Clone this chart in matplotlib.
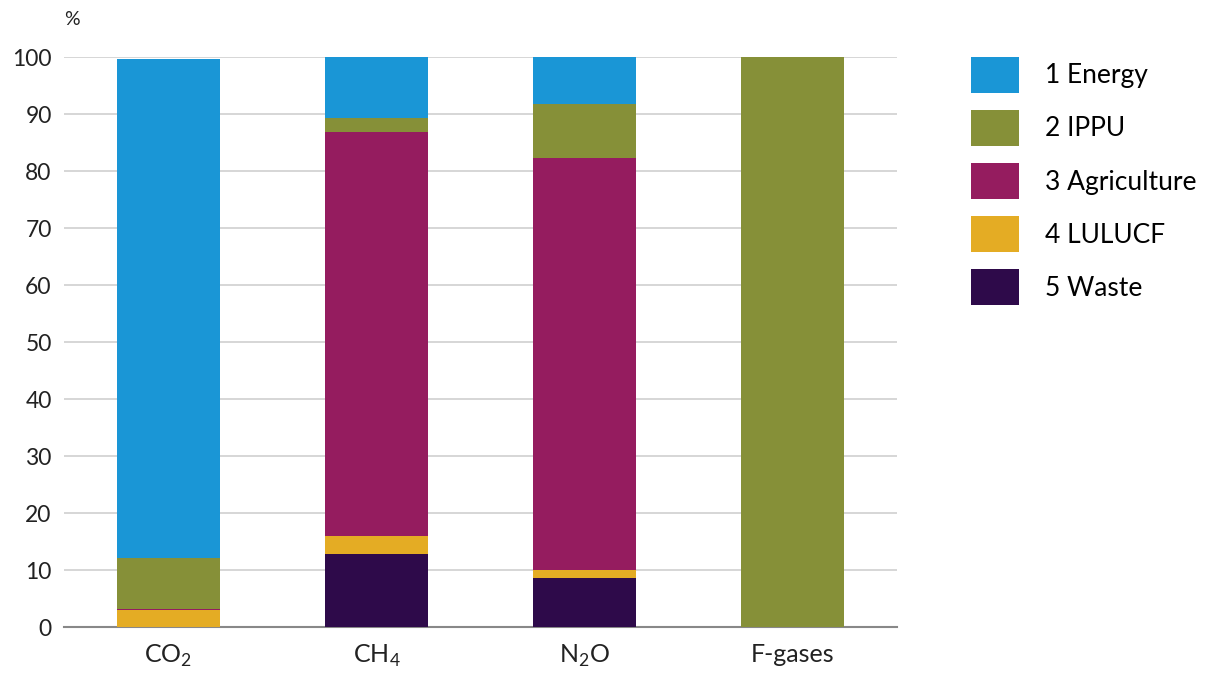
import matplotlib

matplotlib.use("Agg")
import matplotlib.pyplot as plt
from matplotlib.patches import Patch

gases = ["CO$_2$", "CH$_4$", "N$_2$O", "F-gases"]
sectors = ["1 Energy", "2 IPPU", "3 Agriculture", "4 LULUCF", "5 Waste"]
energy = [87.5, 10.7, 8.1, 0.0]
ippu = [9.0, 2.3, 9.6, 100.0]
agriculture = [0.1, 71.0, 72.3, 0.0]
lulucf = [3.1, 3.2, 1.4, 0.0]
waste = [0.0, 12.8, 8.6, 0.0]

colors = ["#1a96d6", "#869038", "#951c5f", "#e4ac24", "#2e0a4a"]

plt.rcParams["font.family"] = ["Lato", "DejaVu Sans"]
plt.rcParams["mathtext.fontset"] = "custom"
plt.rcParams["mathtext.rm"] = "Lato"

fig = plt.figure(figsize=(12.12, 6.84), dpi=100)
ax = fig.add_axes([0.053, 0.083, 0.687, 0.833])

x = range(len(gases))
# stack order bottom-up: waste, LULUCF, agriculture, IPPU, energy
stack = [(waste, 4), (lulucf, 3), (agriculture, 2), (ippu, 1), (energy, 0)]
bottom = [0.0] * len(gases)
for values, idx in stack:
    ax.bar(x, values, width=0.495, bottom=bottom, color=colors[idx], zorder=3)
    bottom = [b + v for b, v in zip(bottom, values)]

ax.set_xlim(-0.5, 3.5)
ax.set_ylim(0, 100)
ax.set_yticks(range(0, 101, 10))
ax.yaxis.grid(True, color="#d0d0d0", linewidth=1.2, zorder=0)
ax.set_xticks(list(x))
ax.set_xticklabels(gases, fontsize=18, color="#222222")
ax.tick_params(axis="y", length=0, labelsize=16.5, labelcolor="#222222", pad=9)
ax.tick_params(axis="x", length=0, pad=11)
for side in ("top", "right", "left"):
    ax.spines[side].set_visible(False)
ax.spines["bottom"].set_color("#888888")
ax.spines["bottom"].set_linewidth(1.5)
ax.set_axisbelow(True)

fig.text(0.059, 0.972, "%", fontsize=14, color="#222222", ha="center", va="center")

handles = [Patch(facecolor=c) for c in colors]
fig.legend(handles, sectors, loc="upper left", bbox_to_anchor=(0.801, 0.917),
           frameon=False, fontsize=19, handlelength=1.82, handleheight=1.72,
           labelspacing=0.65, handletextpad=1.0, borderpad=0, borderaxespad=0)

fig.savefig("out.png", dpi=100)
